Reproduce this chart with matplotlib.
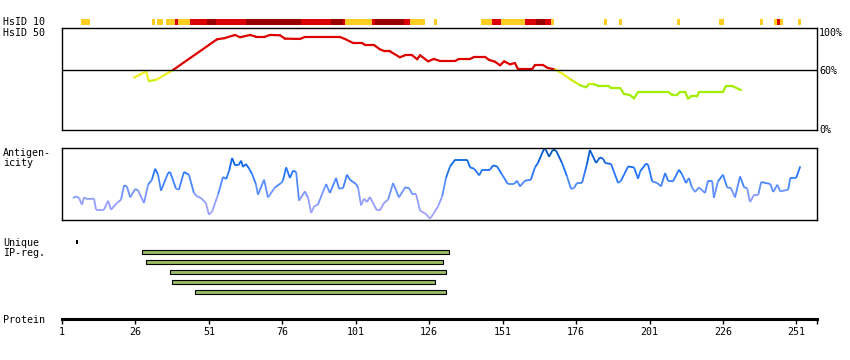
import numpy as np
import matplotlib
matplotlib.use("Agg")
from matplotlib import pyplot as plt
from matplotlib.collections import LineCollection
from matplotlib.colors import LinearSegmentedColormap

matplotlib.rcParams['font.family'] = 'DejaVu Sans Mono'
matplotlib.rcParams['font.size'] = 7.2

# --- data ---
prot_end = 258
ticks = [1, 26, 51, 76, 101, 126, 151, 176, 201, 226, 251]

# HsID 10 strip: residue ranges and level (1 orange, 2 red, 3 dark red)
h10_start = [8, 32, 34, 37, 40, 41, 45, 51, 54, 64, 83, 93, 97, 98, 107, 108, 118, 120, 128,
             144, 148, 151, 159, 163, 166, 168, 186, 191, 211, 225, 239, 244, 245, 246, 252]
h10_end = [10, 32, 35, 39, 40, 44, 50, 53, 63, 82, 92, 96, 97, 106, 107, 117, 119, 124, 128,
           147, 150, 158, 162, 165, 167, 168, 186, 191, 211, 226, 239, 244, 245, 246, 252]
h10_level = [1, 1, 1, 1, 2, 1, 2, 3, 2, 3, 2, 3, 2, 1, 2, 3, 2, 1, 1,
             1, 2, 1, 2, 3, 2, 1, 1, 1, 1, 1, 1, 1, 2, 1, 1]

# HsID 50 identity (%)
h50_pos = [25.5, 29.6, 30.6, 33.0, 38.8, 53.8, 56.2, 59.9, 61.6, 65.0, 67.0, 70.1, 71.8, 75.2,
           76.9, 82.0, 83.7, 95.6, 97.3, 100.1, 103.1, 104.2, 107.2, 109.2, 110.9, 112.6, 116.0,
           117.8, 120.2, 121.9, 122.9, 125.6, 127.6, 129.7, 134.8, 136.1, 139.9, 141.3, 145.0,
           146.4, 148.4, 150.1, 151.5, 153.5, 155.2, 156.2, 161.0, 162.0, 164.7, 166.4, 168.8,
           171.5, 173.9, 177.3, 179.4, 180.4, 182.1, 183.5, 186.9, 187.9, 191.0, 192.3, 194.3,
           195.7, 197.1, 207.3, 208.7, 210.4, 211.4, 213.1, 214.1, 215.1, 217.2, 217.8, 226.0,
           227.0, 229.1, 232.1]
h50_val = [52.6, 59, 49.2, 50.3, 60.3, 91.2, 92.2, 95.5, 93.2, 95.5, 93.8, 93.8, 95.5, 95.2,
           91.8, 91.5, 93.5, 93.5, 91.5, 87.4, 87.4, 85.4, 85.4, 81.1, 79.1, 79.1, 73.1,
           75.1, 75.1, 71.1, 75.1, 69, 71.4, 69.3, 69.3, 71.4, 71.4, 73.4, 73.4,
           70.4, 68.6, 65, 69, 66, 67.3, 61, 61, 65.3, 65.3, 62.3, 61,
           56.3, 51.3, 45, 43, 46.2, 46, 44.5, 44.5, 42.2, 42.2, 36.2, 35.2,
           31.8, 38.2, 38.2, 35.5, 35.5, 38.5, 38.5, 31.5, 33.8, 33.8, 38.2, 38.2,
           44.2, 44.2, 40.2]

# antigenicity (arbitrary units, 0..72)
ag_pos = [4.7, 5.8, 6.8, 7.8, 8.5, 9.5, 11.9, 12.6, 15.3, 16.7, 17.7, 19.7, 21.1, 22.1, 23.1,
          24.2, 25.9, 26.9, 28.9, 30.3, 31.6, 32.7, 33.7, 34.7, 37.1, 37.8, 39.8, 40.8, 42.5,
          44.2, 45.9, 47.0, 48.3, 50.0, 51.0, 52.1, 54.1, 55.8, 56.9, 57.9, 58.9, 59.9, 61.0,
          62.0, 62.6, 63.6, 64.7, 65.7, 67.0, 67.7, 69.8, 71.1, 73.5, 75.6, 76.2, 77.3, 78.6,
          79.6, 80.7, 81.7, 83.7, 84.8, 85.8, 86.8, 88.1, 90.9, 92.2, 94.3, 95.3, 96.7, 98.0,
          99.0, 100.1, 101.1, 101.8, 102.8, 103.8, 104.8, 105.8, 108.2, 109.2, 110.6, 112.0,
          113.7, 115.7, 117.8, 119.1, 120.2, 121.5, 122.9, 124.9, 126.3, 127.6, 129.0, 130.4,
          131.7, 133.1, 134.8, 138.9, 139.9, 141.3, 143.0, 144.0, 146.7, 147.7, 149.1, 150.8,
          152.8, 154.9, 155.9, 156.9, 158.6, 160.6, 162.0, 163.0, 165.1, 165.7, 166.8, 168.1,
          169.2, 171.2, 172.9, 174.3, 175.3, 176.3, 178.0, 179.0, 179.7, 180.7, 182.8, 184.1,
          185.2, 185.9, 187.9, 190.3, 191.3, 193.7, 195.7, 197.1, 197.8, 199.8, 200.5, 201.9,
          203.6, 204.9, 206.3, 207.3, 209.0, 211.0, 212.0, 213.4, 214.4, 215.4, 216.5, 217.8,
          219.9, 220.9, 222.3, 222.9, 224.3, 226.0, 227.4, 228.7, 230.1, 231.8, 233.2, 234.2,
          235.2, 236.6, 238.0, 239.0, 242.1, 243.1, 244.5, 245.5, 248.2, 248.9, 250.9, 252.3]
ag_val = [22, 23.6, 22, 15.3, 22.6, 21, 21.3, 10.3, 10.3, 19.3, 10.3, 17, 20.3, 34.6, 33.6,
          22.6, 31, 29.6, 17, 35.3, 40.3, 51.3, 45.3, 29.3, 47, 48, 31.3, 30.3, 48,
          45.3, 27, 23.6, 22, 17, 5.3, 8.6, 25.3, 43, 41, 49.3, 62, 54.6, 54.6,
          59.3, 53, 56, 51.3, 46, 36, 25.3, 40.3, 22.6, 32.6, 37, 39.3, 52.6, 42,
          49.3, 48, 19.3, 28.6, 22, 7, 13.6, 15.3, 36, 27, 42, 31.3, 32, 45.3,
          40.3, 38, 36, 32, 14.6, 21.3, 18, 23, 9.6, 9.6, 17, 20.3,
          37, 22.6, 32.6, 32, 26, 26, 9.3, 6, 1.3, 7, 13.6, 23.6,
          42, 53.6, 60.3, 60.3, 52.6, 51.3, 44.6, 50.3, 50.3, 54.6, 53.6, 45.3,
          36, 36, 39.3, 33.6, 39.3, 40.3, 52.6, 57, 71.3, 70.3, 63.3, 70.3,
          69.3, 57, 43.6, 31, 32, 37, 37, 48, 56, 70, 57, 62.6,
          61.3, 57, 56, 37, 39.3, 53.6, 52.6, 41.3, 48.6, 56.3, 55.3, 38.6,
          37, 33.6, 47, 39.3, 38.6, 50.3, 46, 37, 42, 32.6, 28, 32.6,
          27, 39.3, 39.3, 22, 38.6, 45.3, 32.6, 32, 22.6, 43.6, 32.6, 32,
          18, 25.3, 25.3, 38, 36, 28, 35.3, 28.6, 30.3, 42, 42, 53.6]

# unique IP regions
ip_start = [28.2, 29.6, 37.8, 38.5, 46.3]
ip_end = [132.7, 130.7, 131.7, 128.0, 131.7]
unique_marks = [6]

# --- layout helpers (pixels) ---
W, H = 850, 360
L, R = 62, 817


def axes_px(fig, top, bottom):
    return fig.add_axes((L / W, 1 - bottom / H, (R - L) / W, (bottom - top) / H))


def label(fig, x, y, s, **kw):
    fig.text(x / W, 1 - y / H, s, va='center', **kw)


fig = plt.figure(figsize=(8.5, 3.6), dpi=100)

# HsID 10 strip
lev_col = {1: '#ffcc22', 2: '#dd0000', 3: '#990000'}
ax10 = axes_px(fig, 19, 25)
for s, e, lv in zip(h10_start, h10_end, h10_level):
    ax10.broken_barh([(s - 0.5, e - s + 1)], (0, 1), facecolors=lev_col[lv])
ax10.set_xlim(1, prot_end)
ax10.set_ylim(0, 1)
ax10.axis('off')

# HsID 50 box
ax50 = axes_px(fig, 28, 130)
pts = np.column_stack([h50_pos, h50_val])
segs = np.stack([pts[:-1], pts[1:]], axis=1)
cols = []
for a, b in zip(h50_val[:-1], h50_val[1:]):
    m = (a + b) / 2
    if m >= 60:
        cols.append('#dd0000')
    elif m >= 52:
        cols.append('#eeee22')
    elif m >= 46:
        cols.append('#c8f000')
    else:
        cols.append('#a2ee00')
ax50.add_collection(LineCollection(segs, colors=cols, linewidths=1.6, capstyle='round'))
ax50.axhline(60, color='black', lw=1.0)
ax50.set_xlim(1, prot_end)
ax50.set_ylim(0, 102.5)
ax50.set_xticks([])
ax50.set_yticks([])
for sp in ax50.spines.values():
    sp.set_linewidth(1.0)

# antigenicity box
axag = axes_px(fig, 148, 220)
cmap = LinearSegmentedColormap.from_list(
    'ag', [(0, '#aaa2ff'), (0.3, '#8c9cff'), (0.5, '#4a88ff'),
           (0.7, '#1a70f8'), (0.85, '#0a60dd'), (1.0, '#0050b0')])
pts = np.column_stack([ag_pos, ag_val])
segs = np.stack([pts[:-1], pts[1:]], axis=1)
mids = (np.array(ag_val[:-1]) + np.array(ag_val[1:])) / 2
lc = LineCollection(segs, cmap=cmap, linewidths=1.3)
lc.set_array(mids)
lc.set_clim(0, 72)
axag.add_collection(lc)
axag.set_xlim(1, prot_end)
axag.set_ylim(0, 72)
axag.set_xticks([])
axag.set_yticks([])
for sp in axag.spines.values():
    sp.set_linewidth(1.0)

# unique IP regions
axip = axes_px(fig, 237, 297)
for i, (s, e) in enumerate(zip(ip_start, ip_end)):
    axip.barh(i, e - s, left=s, height=0.45, color='#99bb66',
              edgecolor='black', linewidth=0.8)
for u in unique_marks:
    axip.barh(-1, 0.6, left=u - 0.3, height=0.45, color='black', linewidth=0)
axip.set_xlim(1, prot_end)
axip.set_ylim(4.5, -1.5)
axip.axis('off')

# protein axis
axp = axes_px(fig, 300, 319)
axp.set_xlim(1, prot_end)
for k in ['top', 'left', 'right']:
    axp.spines[k].set_visible(False)
axp.spines['bottom'].set_linewidth(2.2)
axp.set_yticks([])
axp.set_xticks(ticks)
axp.set_xticks([prot_end], minor=True)
axp.tick_params(axis='x', which='both', direction='out', length=3.5, width=1.0, pad=2.5,
                labelsize=7.2)

# texts
label(fig, 3, 22, 'HsID 10')
label(fig, 3, 32.5, 'HsID 50')
label(fig, 3, 153, 'Antigen-')
label(fig, 3, 163, 'icity')
label(fig, 3, 242.5, 'Unique')
label(fig, 3, 253, 'IP-reg.')
label(fig, 3, 320, 'Protein')
label(fig, 819, 32.5, '100%')
label(fig, 819, 70.5, '60%')
label(fig, 819, 130, '0%')

fig.savefig('out.png', dpi=100)
